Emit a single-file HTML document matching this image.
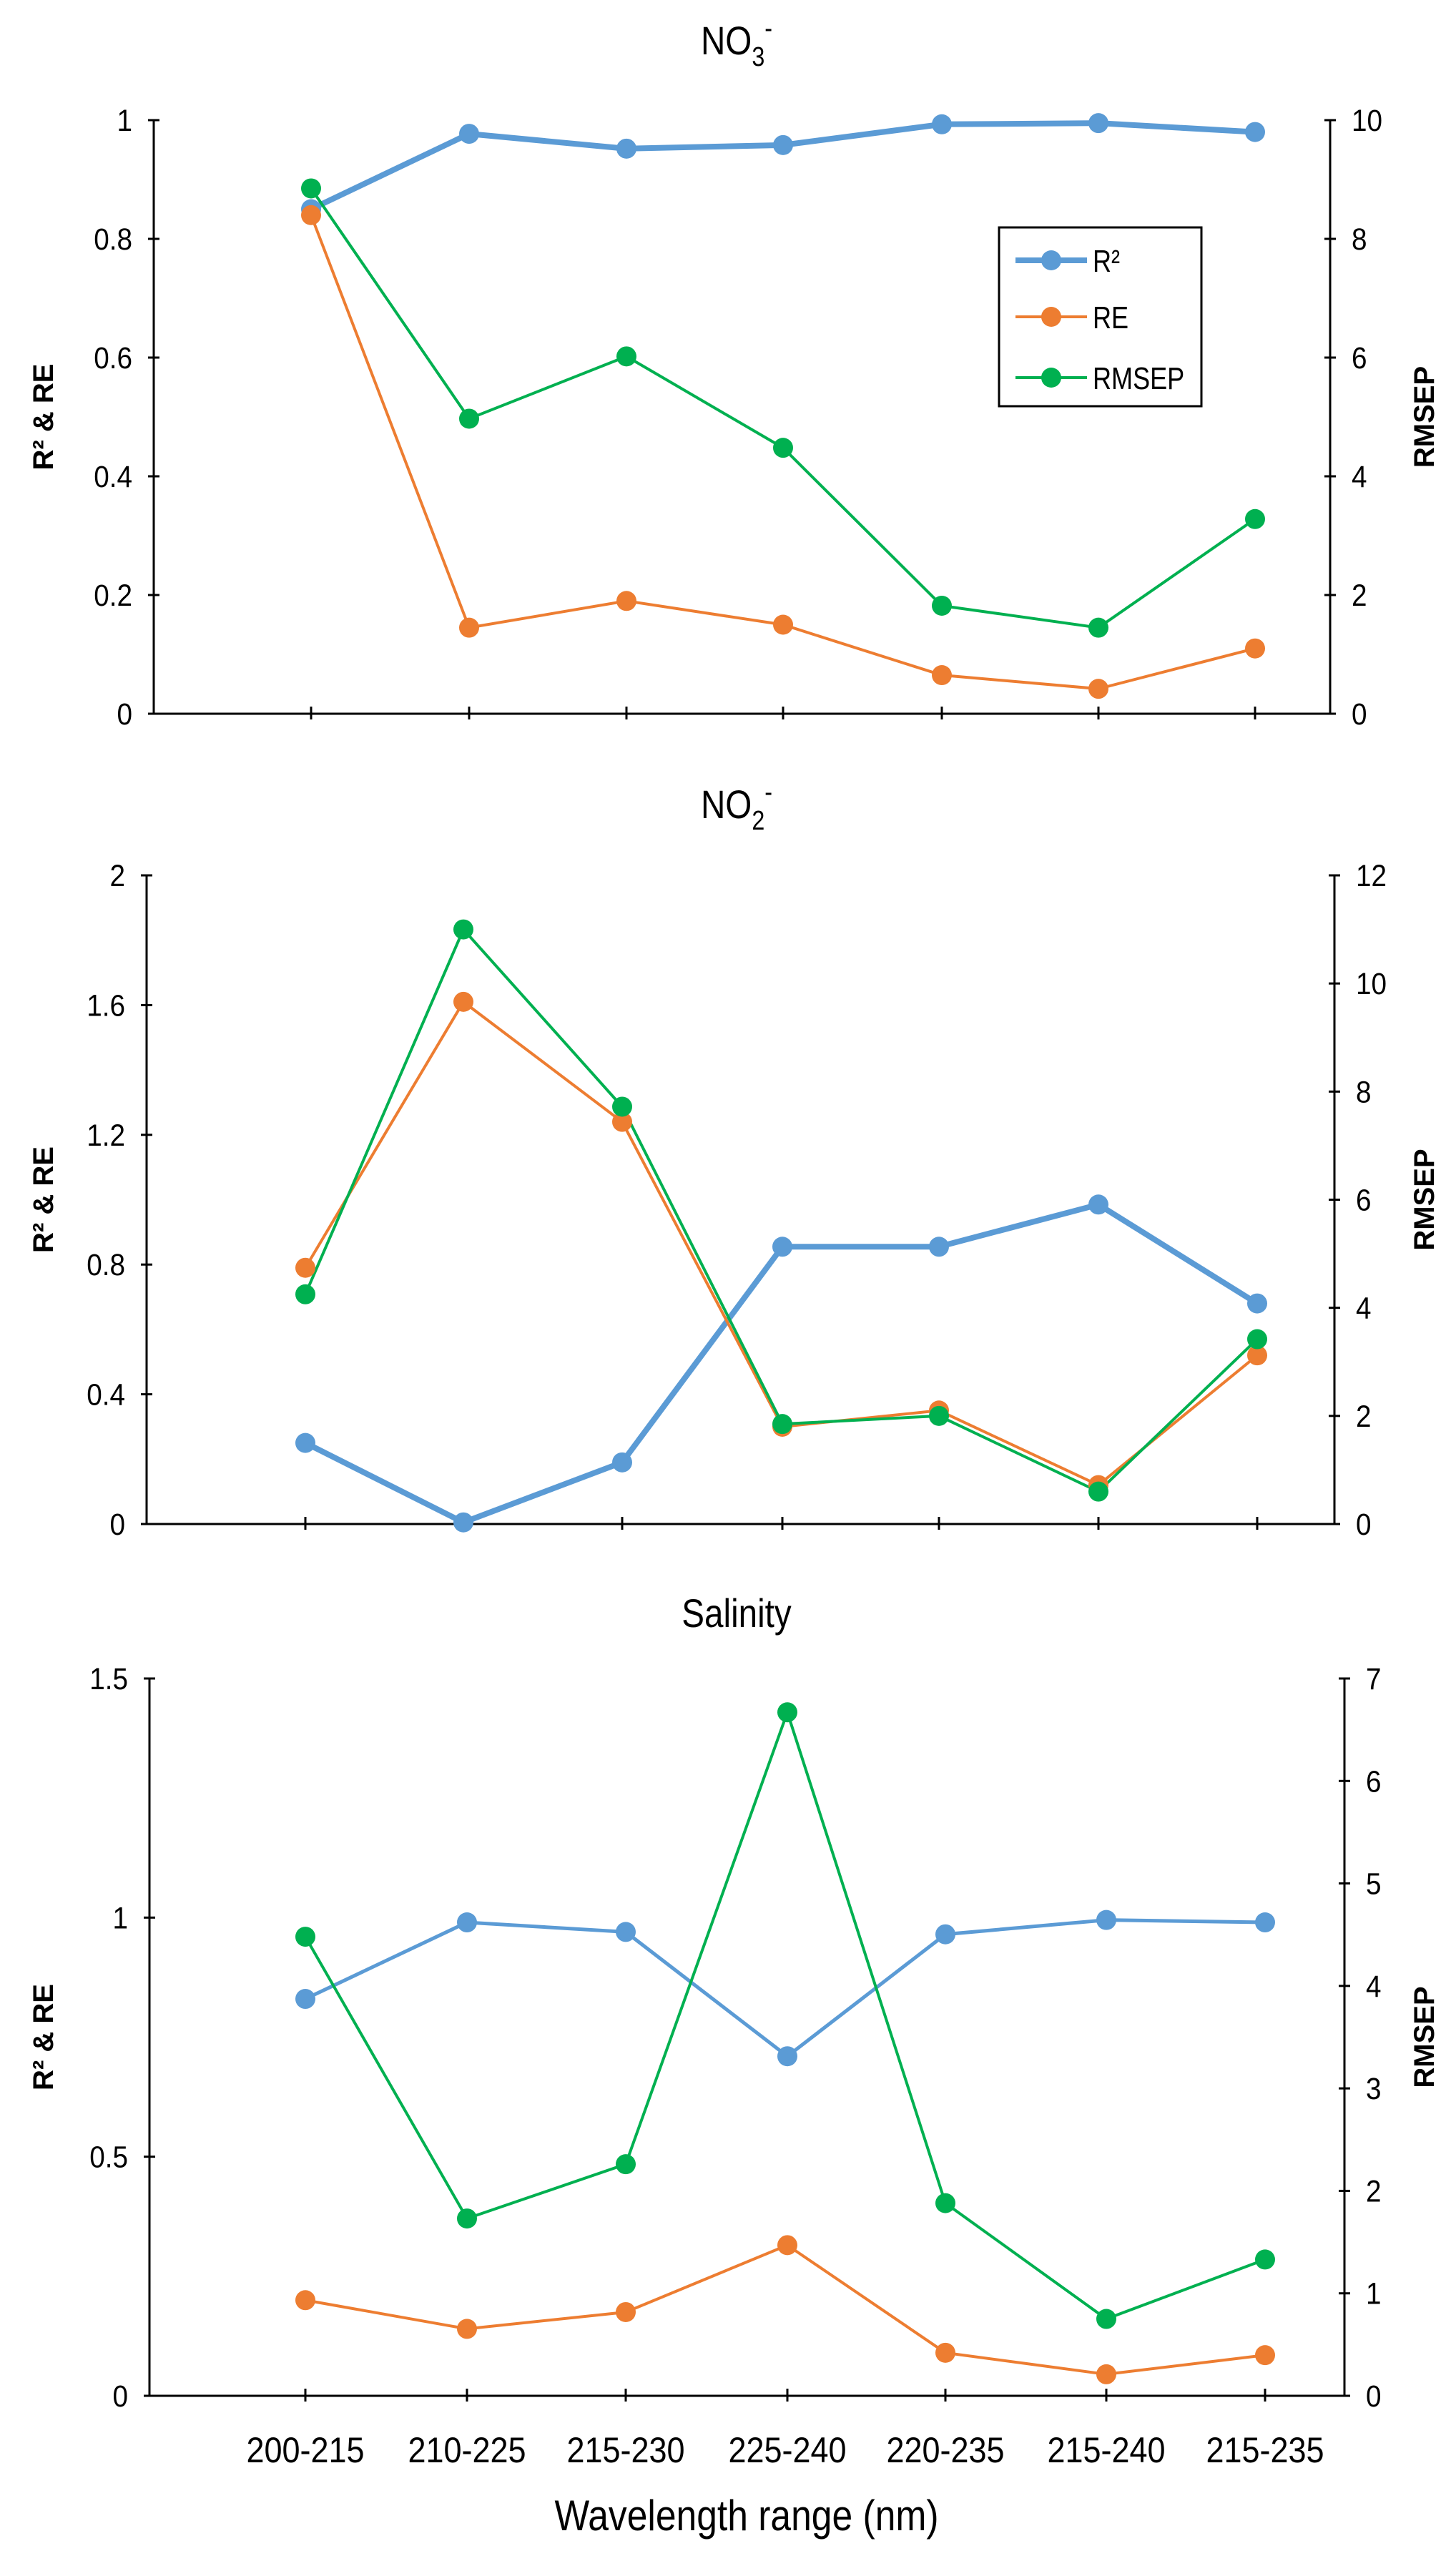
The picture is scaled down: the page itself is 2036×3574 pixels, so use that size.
<!DOCTYPE html>
<html><head><meta charset="utf-8"><style>
html,body{margin:0;padding:0;background:#fff;}
svg{display:block;}
text{font-family:"Liberation Sans",sans-serif;fill:#000;}
</style></head><body>
<svg id="s" width="2036" height="3574" xmlns="http://www.w3.org/2000/svg"></svg>
<script>
const S=document.getElementById('s');let h='';
const C={b:'#5b9bd5',o:'#ed7d31',g:'#00b050'};
function sx(x,k){return `transform="translate(${x} 0) scale(${k} 1) translate(${-x} 0)"`;}
function panel(p){
  const {L,R,top,bot,lmax,lticks,rmax,rticks,cx,d,title,ty}=p;
  const yl=v=>bot-(bot-top)*v/lmax, yr=v=>bot-(bot-top)*v/rmax;
  h+=`<text x="1030" y="${ty}" font-size="56" text-anchor="middle" ${sx(1030,0.85)}>${title}</text>`;
  h+=`<line x1="${L}" y1="${top}" x2="${L}" y2="${bot}" stroke="#000" stroke-width="3"/>`;
  h+=`<line x1="${R}" y1="${top}" x2="${R}" y2="${bot}" stroke="#000" stroke-width="3"/>`;
  h+=`<line x1="${L}" y1="${bot}" x2="${R}" y2="${bot}" stroke="#000" stroke-width="3"/>`;
  lticks.forEach(t=>{const y=yl(t[0]);h+=`<line x1="${L-8}" y1="${y}" x2="${L+8}" y2="${y}" stroke="#000" stroke-width="3"/><text x="${L-30}" y="${y+15}" font-size="43" text-anchor="end" ${sx(L-30,0.9)}>${t[1]}</text>`;});
  rticks.forEach(t=>{const y=yr(t);h+=`<line x1="${R-8}" y1="${y}" x2="${R+8}" y2="${y}" stroke="#000" stroke-width="3"/><text x="${R+30}" y="${y+15}" font-size="43" ${sx(R+30,0.9)}>${t}</text>`;});
  cx.forEach(x=>{h+=`<line x1="${x}" y1="${bot-10}" x2="${x}" y2="${bot+8}" stroke="#000" stroke-width="3"/>`;});
  const my=(top+bot)/2;
  h+=`<text transform="translate(74 ${my}) rotate(-90)" font-size="40" font-weight="bold" text-anchor="middle">R² &amp; RE</text>`;
  h+=`<text transform="translate(2005 ${my}) rotate(-90)" font-size="40" font-weight="bold" text-anchor="middle">RMSEP</text>`;
  const ser=[[d.r,C.b,p.bw,yl],[d.e,C.o,4,yl],[d.m,C.g,4,yr]];
  ser.forEach(([v,c,w,f])=>{
    const pts=v.map((a,i)=>cx[i]+','+f(a)).join(' ');
    h+=`<polyline points="${pts}" fill="none" stroke="${c}" stroke-width="${w}"/>`;
  });
  ser.forEach(([v,c,w,f])=>{v.forEach((a,i)=>{h+=`<circle cx="${cx[i]}" cy="${f(a)}" r="14" fill="${c}"/>`;});});
}
panel({L:215,R:1860,top:168,bot:998,lmax:1,lticks:[[0,'0'],[.2,'0.2'],[.4,'0.4'],[.6,'0.6'],[.8,'0.8'],[1,'1']],rmax:10,rticks:[0,2,4,6,8,10],
 cx:[435,656,876,1095,1317,1536,1755],bw:8,title:'NO<tspan font-size="38" dy="16">3</tspan><tspan font-size="38" dy="-40">-</tspan>',ty:76,
 d:{r:[.85,.977,.952,.958,.993,.995,.98],e:[.84,.145,.19,.15,.065,.042,.11],m:[8.85,4.97,6.02,4.48,1.82,1.45,3.28]}});
panel({L:205,R:1866,top:1224,bot:2131,lmax:2,lticks:[[0,'0'],[.4,'0.4'],[.8,'0.8'],[1.2,'1.2'],[1.6,'1.6'],[2,'2']],rmax:12,rticks:[0,2,4,6,8,10,12],
 cx:[427,648,870,1094,1313,1536,1758],bw:8,title:'NO<tspan font-size="38" dy="16">2</tspan><tspan font-size="38" dy="-40">-</tspan>',ty:1144,
 d:{r:[.25,.005,.19,.855,.855,.985,.68],e:[.79,1.61,1.24,.3,.35,.12,.52],m:[4.25,11.0,7.72,1.85,2.0,0.6,3.42]}});
panel({L:209,R:1880,top:2347,bot:3350,lmax:1.5,lticks:[[0,'0'],[.5,'0.5'],[1,'1'],[1.5,'1.5']],rmax:7,rticks:[0,1,2,3,4,5,6,7],
 cx:[427,653,875,1101,1322,1547,1769],bw:5,title:'Salinity',ty:2275,
 d:{r:[.83,.99,.97,.71,.965,.995,.99],e:[.2,.14,.175,.315,.09,.045,.085],m:[4.48,1.73,2.26,6.67,1.88,0.75,1.33]}});
['200-215','210-225','215-230','225-240','220-235','215-240','215-235'].forEach((t,i)=>{
  const x=[427,653,875,1101,1322,1547,1769][i];
  h+=`<text x="${x}" y="3443" font-size="50" text-anchor="middle" ${sx(x,0.9)}>${t}</text>`;
});
h+=`<text x="1044" y="3538" font-size="60" text-anchor="middle" ${sx(1044,0.86)}>Wavelength range (nm)</text>`;
h+=`<rect x="1397" y="318" width="283" height="250" fill="#fff" stroke="#000" stroke-width="3"/>`;
[['R²',C.b,8,364],['RE',C.o,4,443],['RMSEP',C.g,4,528]].forEach(([t,c,w,y])=>{
  h+=`<line x1="1420" y1="${y}" x2="1520" y2="${y}" stroke="${c}" stroke-width="${w}"/><circle cx="1470" cy="${y}" r="14" fill="${c}"/>`;
  h+=`<text x="1528" y="${y+16}" font-size="44" ${sx(1528,0.82)}>${t}</text>`;
});
S.innerHTML=h;
</script>
</body></html>
